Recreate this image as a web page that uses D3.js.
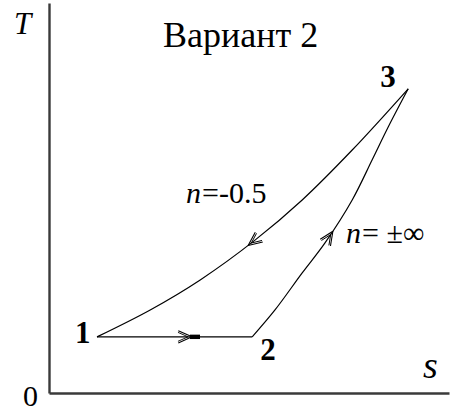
<!DOCTYPE html>
<html>
<head>
<meta charset="utf-8">
<script src="https://cdn.jsdelivr.net/npm/d3@7"></script>
</head>
<body style="margin:0">
<svg id="chart" width="450" height="407" font-family="Liberation Serif"></svg>
<script>
// T-s diagram, "Вариант 2"
const titleText = "Вариант 2";
const axisLabels = ["T", "s", "0"];
const stateLabels = ["1", "2", "3"];
const stateS = [1.2, 5.08, 8.98];
const stateT = [1.44, 1.44, 7.8];

// process 1-3 (n = -0.5), read from 1 to 3
const curve13S = [1.2, 2.53, 3.78, 5.15, 6.33, 7.58, 8.98];
const curve13T = [1.44, 2.13, 2.9, 3.92, 4.95, 6.23, 7.8];
// process 2-3 (n = ±∞), read from 2 to 3
const curve23S = [5.08, 5.65, 6.33, 6.9, 7.58, 8.08, 8.48, 8.98];
const curve23T = [1.44, 2.13, 3.08, 3.85, 4.95, 5.98, 6.82, 7.8];

const processLabels = ["n=-0.5", "n = ±∞"];
// s position of arrow tips: 1->2, 3->1, 2->3
const arrowS = [3.58, 4.98, 7.1];

const fontName = "Liberation Serif";
const svg = d3.select("#chart");

const xScale = d3.scaleLinear().domain([0, 10]).range([49, 449]);
const yScale = d3.scaleLinear().domain([0, 10]).range([393, 3]);

// axes (no ticks, only the two lines)
const xAxis = d3.axisBottom(xScale).tickValues([]).tickSizeOuter(0);
const yAxis = d3.axisLeft(yScale).tickValues([]).tickSizeOuter(0);

svg.append("g")
    .attr("transform", `translate(0,${yScale(0)})`)
    .call(xAxis)
    .select(".domain")
    .attr("stroke", "#3a3a3a")
    .attr("stroke-width", 2.4);

svg.append("g")
    .attr("transform", `translate(${xScale(0)},0)`)
    .call(yAxis)
    .select(".domain")
    .attr("stroke", "#3a3a3a")
    .attr("stroke-width", 2.4);

const line = d3.line()
    .x((d) => xScale(d[0]))
    .y((d) => yScale(d[1]))
    .curve(d3.curveCatmullRom.alpha(0.5));

const paths = [];

// 1 -> 2 straight
paths.push(svg.append("path")
    .attr("d", line([[stateS[0], stateT[0]], [stateS[1], stateT[1]]]))
    .attr("fill", "none")
    .attr("stroke", "#000")
    .attr("stroke-width", 1.4));

// 1 - 3
paths.push(svg.append("path")
    .attr("d", line(curve13S.map((d, i) => [d, curve13T[i]])))
    .attr("fill", "none")
    .attr("stroke", "#000")
    .attr("stroke-width", 1.2));

// 2 - 3
paths.push(svg.append("path")
    .attr("d", line(curve23S.map((d, i) => [d, curve23T[i]])))
    .attr("fill", "none")
    .attr("stroke", "#000")
    .attr("stroke-width", 1.2));

// point on a path closest to a given s
function pointAtS(pathSel, s) {
    const node = pathSel.node();
    const total = node.getTotalLength();
    const target = xScale(s);
    let best = 0, bestDist = Infinity;
    for (let l = 0; l <= total; l += 0.5) {
        const p = node.getPointAtLength(l);
        const dd = Math.abs(p.x - target);
        if (dd < bestDist) { bestDist = dd; best = l; }
    }
    return { len: best, node: node, total: total };
}

// arrows, reversed direction for 3 -> 1
const arrowDirs = [false, true, false];
arrowS.forEach((s, i) => {
    const r = pointAtS(paths[i], s);
    const p = r.node.getPointAtLength(r.len);
    const q = r.node.getPointAtLength(Math.max(0, Math.min(r.total, r.len + (arrowDirs[i] ? -3 : 3))));
    const ang = Math.atan2(q.y - p.y, q.x - p.x);
    const g = svg.append("g")
        .attr("transform", `translate(${p.x},${p.y}) rotate(${ang * 180 / Math.PI})`);
    [-0.42, 0.42].forEach((a) => {
        g.append("line")
            .attr("x1", 0).attr("y1", 0)
            .attr("x2", -15 * Math.cos(a)).attr("y2", -15 * Math.sin(a))
            .attr("stroke", "#000").attr("stroke-width", 1.1);
        g.append("line")
            .attr("x1", -4).attr("y1", 0)
            .attr("x2", -4 - 11 * Math.cos(a)).attr("y2", -11 * Math.sin(a))
            .attr("stroke", "#000").attr("stroke-width", 0.9);
    });
    if (i === 0) {
        g.append("rect")
            .attr("x", -2).attr("y", -2.2)
            .attr("width", 10).attr("height", 4.4)
            .attr("fill", "#000");
    }
});

// state labels
const stateDx = [-22, 8, -28];
const stateDy = [6, 23, -2];
svg.selectAll(".state")
    .data(stateLabels)
    .enter()
    .append("text")
    .attr("class", "state")
    .attr("x", (d, i) => xScale(stateS[i]) + stateDx[i])
    .attr("y", (d, i) => yScale(stateT[i]) + stateDy[i])
    .attr("font-family", fontName)
    .attr("font-weight", "bold")
    .attr("font-size", 31)
    .text((d) => d);

// axis labels
svg.append("text")
    .attr("x", 14).attr("y", 34)
    .attr("font-family", fontName)
    .attr("font-style", "italic")
    .attr("font-size", 31)
    .text(axisLabels[0]);

svg.append("text")
    .attr("x", 423).attr("y", 378)
    .attr("font-family", fontName)
    .attr("font-style", "italic")
    .attr("font-size", 38)
    .text(axisLabels[1]);

svg.append("text")
    .attr("x", 23).attr("y", 406)
    .attr("font-family", fontName)
    .attr("font-size", 30)
    .text(axisLabels[2]);

// title, size fitted to the reference width
const title = svg.append("text")
    .attr("x", 163).attr("y", 47)
    .attr("font-family", fontName)
    .attr("font-size", 32)
    .text(titleText);
const tw = title.node().getComputedTextLength();
if (tw > 0) title.attr("font-size", Math.min(36, 32 * 159 / tw));

// process labels, "n" in italic
function processLabel(x, y, label) {
    const n = svg.append("text")
        .attr("x", x).attr("y", y)
        .attr("font-family", fontName)
        .attr("font-style", "italic")
        .attr("font-size", 30)
        .text(label.slice(0, 1));
    const nw = n.node().getComputedTextLength() || 15;
    svg.append("text")
        .attr("x", x + nw + 1).attr("y", y)
        .attr("font-family", fontName)
        .attr("font-size", 30)
        .text(label.slice(1));
}
processLabel(186, 203, processLabels[0]);
processLabel(346, 243, processLabels[1]);
</script>
</body>
</html>
